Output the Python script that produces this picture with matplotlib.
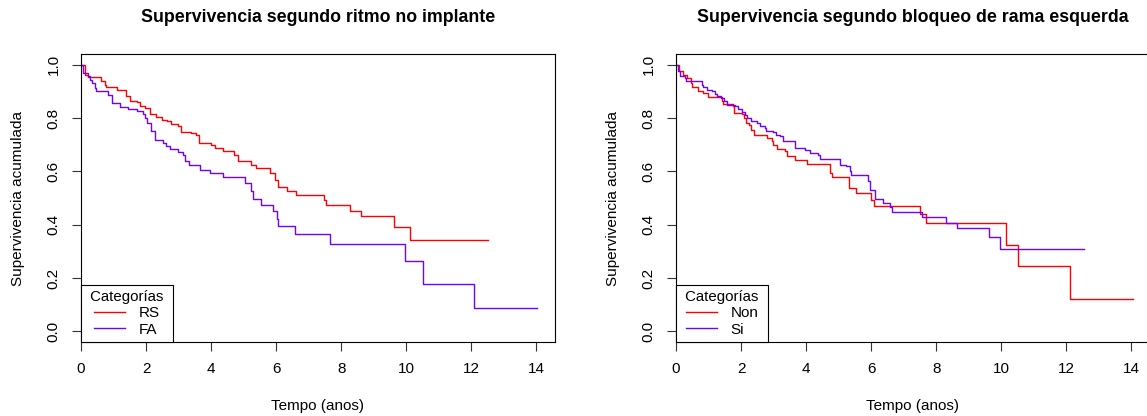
import matplotlib
matplotlib.use("Agg")
import matplotlib.pyplot as plt

plt.rcParams['font.family'] = ['Liberation Sans', 'DejaVu Sans']

RED = "#FF0000"
BLUE = "#7000FF"

# Panel 1: ritmo no implante
rs_t = [0, 0.12, 0.22, 0.63, 0.74, 0.78, 1.10, 1.37, 1.50, 1.71, 1.81, 1.96, 2.12, 2.32,
        2.48, 2.63, 2.78, 2.99, 3.09, 3.38, 3.55, 3.62, 4.01, 4.11, 4.37, 4.71, 4.83, 5.24,
        5.39, 5.80, 5.96, 6.06, 6.32, 6.62, 7.46, 7.54, 8.26, 8.62, 9.62, 10.13, 12.53]
rs_s = [1.0, 0.963, 0.952, 0.940, 0.925, 0.915, 0.906, 0.881, 0.865, 0.860, 0.844, 0.838,
        0.815, 0.802, 0.794, 0.787, 0.778, 0.769, 0.748, 0.744, 0.738, 0.706, 0.700, 0.688,
        0.678, 0.663, 0.637, 0.625, 0.613, 0.594, 0.569, 0.540, 0.525, 0.511, 0.491, 0.475,
        0.453, 0.431, 0.391, 0.344, 0.344]

fa_t = [0, 0.07, 0.20, 0.28, 0.35, 0.43, 0.45, 0.84, 0.94, 0.96, 1.20, 1.45, 1.71, 1.91,
        1.96, 2.04, 2.15, 2.29, 2.53, 2.60, 2.73, 2.97, 3.14, 3.21, 3.32, 3.65, 3.96, 4.37,
        5.04, 5.24, 5.29, 5.53, 5.90, 6.04, 6.06, 6.57, 7.67, 9.95, 10.51, 12.10, 14.02]
fa_s = [1.0, 0.969, 0.959, 0.944, 0.931, 0.913, 0.903, 0.885, 0.875, 0.856, 0.840, 0.835,
        0.828, 0.815, 0.800, 0.781, 0.753, 0.719, 0.706, 0.694, 0.685, 0.672, 0.663, 0.640,
        0.622, 0.606, 0.594, 0.577, 0.556, 0.525, 0.498, 0.472, 0.450, 0.423, 0.394, 0.366,
        0.329, 0.265, 0.176, 0.089, 0.089]

# Panel 2: bloqueo de rama esquerda
non_t = [0, 0.10, 0.22, 0.33, 0.45, 0.48, 0.69, 0.84, 0.99, 1.40, 1.45, 1.74, 1.78, 2.02,
         2.09, 2.15, 2.23, 2.32, 2.39, 2.80, 2.94, 2.99, 3.11, 3.35, 3.40, 3.65, 4.03, 4.75,
         4.81, 5.31, 5.53, 6.01, 6.08, 7.49, 7.68, 10.16, 10.53, 12.13, 14.04]
non_s = [1.0, 0.977, 0.963, 0.950, 0.931, 0.915, 0.900, 0.894, 0.877, 0.862, 0.853, 0.844,
         0.819, 0.815, 0.800, 0.781, 0.772, 0.756, 0.738, 0.725, 0.715, 0.700, 0.685, 0.675,
         0.656, 0.644, 0.628, 0.594, 0.577, 0.538, 0.519, 0.494, 0.471, 0.440, 0.406, 0.325,
         0.244, 0.123, 0.123]

si_t = [0, 0.07, 0.12, 0.28, 0.31, 0.79, 0.84, 0.96, 1.10, 1.20, 1.25, 1.37, 1.47, 1.56,
        1.81, 1.91, 2.02, 2.12, 2.17, 2.32, 2.48, 2.58, 2.73, 2.78, 2.99, 3.07, 3.19, 3.29,
        3.65, 3.96, 4.11, 4.37, 4.42, 5.04, 5.24, 5.34, 5.39, 5.90, 5.96, 6.11, 6.37, 6.59,
        6.64, 7.57, 8.31, 8.64, 9.64, 9.97, 12.56]
si_s = [1.0, 0.975, 0.956, 0.950, 0.940, 0.925, 0.915, 0.906, 0.900, 0.890, 0.881, 0.875,
        0.862, 0.850, 0.844, 0.835, 0.823, 0.813, 0.800, 0.790, 0.781, 0.769, 0.763, 0.753,
        0.748, 0.738, 0.731, 0.715, 0.688, 0.681, 0.669, 0.663, 0.646, 0.625, 0.619, 0.600,
        0.588, 0.563, 0.531, 0.498, 0.481, 0.466, 0.448, 0.427, 0.406, 0.386, 0.353, 0.308,
        0.308]

panels = [
    ("Supervivencia segundo ritmo no implante", [(rs_t, rs_s, "RS", RED), (fa_t, fa_s, "FA", BLUE)]),
    ("Supervivencia segundo bloqueo de rama esquerda", [(non_t, non_s, "Non", RED), (si_t, si_s, "Si", BLUE)]),
]

W, H = 1147, 416
fig = plt.figure(figsize=(W / 100, H / 100), dpi=100)
lefts = [81, 676]
ax_w = 473.5
top, bottom = 54, 342
ax_h = bottom - top

for left, (title, curves) in zip(lefts, panels):
    ax = fig.add_axes([left / W, 1 - bottom / H, ax_w / W, ax_h / H])
    for t, s, lab, col in curves:
        ax.step(t, s, where='post', color=col, lw=1.0, label=lab)
    ax.set_xlim(0, 14.56)
    ax.set_ylim(-0.04, 1.04)
    ax.set_xticks(range(0, 15, 2))
    ax.set_yticks([0.0, 0.2, 0.4, 0.6, 0.8, 1.0])
    ax.set_yticklabels(["0.0", "0.2", "0.4", "0.6", "0.8", "1.0"], rotation=90, va='center')
    ax.tick_params(direction='out', length=6.5, width=0.8, labelsize=11, pad=8, color='#333333')
    for sp in ax.spines.values():
        sp.set_linewidth(0.8)
    ax.set_xlabel("Tempo (anos)", fontsize=11, va='center')
    ax.set_ylabel("Supervivencia acumulada", fontsize=11, va='center')
    ax.xaxis.set_label_coords(0.5, -(406 - bottom) / ax_h)
    ax.yaxis.set_label_coords(-63 / ax_w, 0.5)
    ax.text(0.5, 1 + (top - 18) / ax_h, title, transform=ax.transAxes,
            ha='center', va='center', fontsize=12.8, fontweight='bold')
    leg = ax.legend(title=" Categorías ", loc='lower left', bbox_to_anchor=(0, 0),
                    borderaxespad=0, fancybox=False, edgecolor='black', framealpha=1,
                    fontsize=11, title_fontsize=10.8, labelspacing=0.15, handlelength=2.0,
                    handletextpad=0.9, borderpad=0.35, alignment='center')
    leg.get_frame().set_linewidth(0.8)

fig.savefig("out.png", dpi=100)
